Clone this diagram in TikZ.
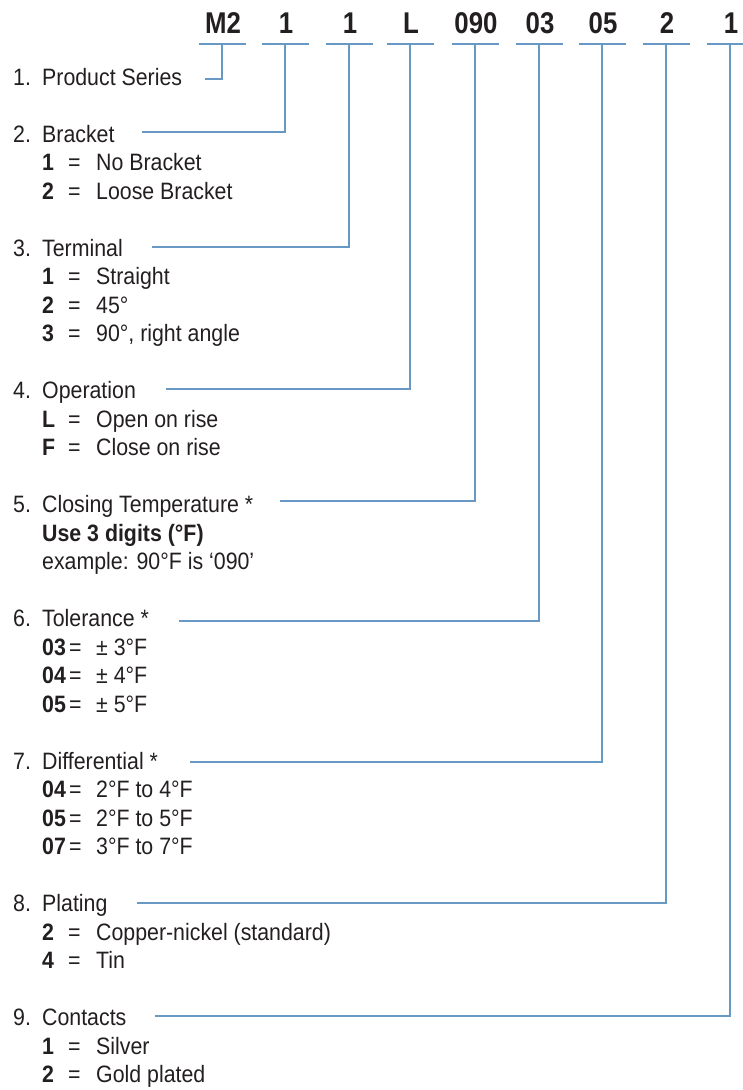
\documentclass[tikz,border=0pt]{standalone}
\usepackage{fontspec}
\setmainfont{Liberation Sans}[FakeStretch=0.9]
\newfontfamily\hdrfont{Liberation Sans}[FakeStretch=0.86]
\definecolor{lineblue}{RGB}{104,152,196}
\definecolor{ink}{RGB}{35,31,32}
\newcommand\mkhead[4]{%
  \node[txt] (n#1) at (13,{85+28.5*(#2)}) {#3.};
  \node[txt] (l#1) at (42,{85+28.5*(#2)}) {#4};}
\newcommand\mkopt[5]{%
  \node[codetxt] (c#1) at (42,{85+28.5*(#2)}) {#3};
  \node[txt] (e#1) at (#4,{85+28.5*(#2)}) {=};
  \node[txt] (v#1) at (96,{85+28.5*(#2)}) {#5};}
\begin{document}
\begin{tikzpicture}[x=1pt,y=-1pt,
  conn/.style={draw=lineblue, line width=2.7pt},
  hdr/.style={anchor=base, inner sep=0pt, font=\hdrfont\fontsize{30}{31}\selectfont\bfseries, text=ink},
  txt/.style={anchor=base west, inner sep=0pt, font=\fontsize{23.7}{28}\selectfont, text=ink},
  codetxt/.style={anchor=base west, inner sep=0pt, font=\fontsize{23.7}{28}\selectfont\bfseries, text=ink},
]
\useasboundingbox (0,0) rectangle (743,1090);

% header code and connectors
\foreach \i/\x/\lab/\ly/\sx in {1/222/M2/79/205, 2/285/1/132/142, 3/349/1/247/152,
  4/410/L/389/166, 5/475/090/501/280, 6/539/03/621/179, 7/602/05/762/190,
  8/666/2/903/137, 9/730/1/1016/155}{
  \node[hdr] (h\i) at (\x+1,33) {\lab};
  \coordinate (bl\i) at (\x-23,44);
  \coordinate (br\i) at (\x+24,44);
  \coordinate (t\i) at (\x,44);
  \coordinate (s\i) at (\sx,\ly);
  \draw[conn] (bl\i) -- (br\i);
  \draw[conn] (t\i) |- (s\i);
}

% 1
\mkhead{1}{0}{1}{Product Series}
% 2
\mkhead{2}{2}{2}{Bracket}
\mkopt{2a}{3}{1}{68}{No Bracket}
\mkopt{2b}{4}{2}{68}{Loose Bracket}
% 3
\mkhead{3}{6}{3}{Terminal}
\mkopt{3a}{7}{1}{68}{Straight}
\mkopt{3b}{8}{2}{68}{45°}
\mkopt{3c}{9}{3}{68}{90°, right angle}
% 4
\mkhead{4}{11}{4}{Operation}
\mkopt{4a}{12}{L}{68}{Open on rise}
\mkopt{4b}{13}{F}{68}{Close on rise}
% 5
\mkhead{5}{15}{5}{Closing Temperature *}
\node[codetxt] (u5) at (42,{85+28.5*16}) {Use 3 digits (°F)};
\node[txt] (x5) at (42,{85+28.5*17}) {example: 90°F is ‘090’};
% 6
\mkhead{6}{19}{6}{Tolerance *}
\mkopt{6a}{20}{03}{69}{± 3°F}
\mkopt{6b}{21}{04}{69}{± 4°F}
\mkopt{6c}{22}{05}{69}{± 5°F}
% 7
\mkhead{7}{24}{7}{Differential *}
\mkopt{7a}{25}{04}{69}{2°F to 4°F}
\mkopt{7b}{26}{05}{69}{2°F to 5°F}
\mkopt{7c}{27}{07}{69}{3°F to 7°F}
% 8
\mkhead{8}{29}{8}{Plating}
\mkopt{8a}{30}{2}{68}{Copper-nickel (standard)}
\mkopt{8b}{31}{4}{68}{Tin}
% 9
\mkhead{9}{33}{9}{Contacts}
\mkopt{9a}{34}{1}{68}{Silver}
\mkopt{9b}{35}{2}{68}{Gold plated}
\end{tikzpicture}
\end{document}
